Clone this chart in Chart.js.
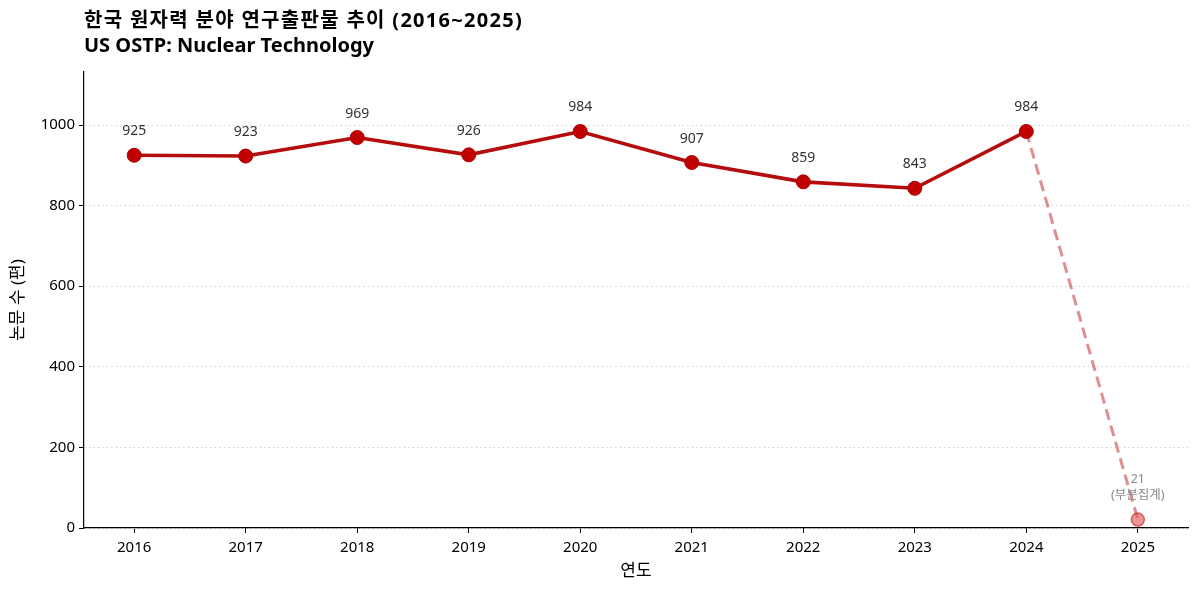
<!DOCTYPE html>
<html><head><meta charset="utf-8">
<script src="https://cdn.jsdelivr.net/npm/chart.js@4.4.1/dist/chart.umd.min.js"></script>
<style>html,body{margin:0;padding:0;background:#fff}#wrap{width:1200px;height:593px}</style>
</head><body><div id="wrap"><canvas id="c" width="1200" height="593"></canvas></div>
<script>
const years = [2016,2017,2018,2019,2020,2021,2022,2023,2024,2025];
const mainYears = [2016,2017,2018,2019,2020,2021,2022,2023,2024];
const mainValues = [925,923,969,926,984,907,859,843,984];
const partialYears = [2024,2025];
const partialValues = [984,21];
const yTicks = [0,200,400,600,800,1000];
const titleLines = ['한국 원자력 분야 연구출판물 추이 (2016~2025)','US OSTP: Nuclear Technology'];
const xTitle = '연도';
const yTitle = '논문 수 (편)';
const partialNote = '(부분집계)';

const FONT = "'Noto Sans','Noto Sans CJK KR',sans-serif";
const KFONT = "'Noto Sans CJK KR',sans-serif";
const mainData = mainYears.map((x,i)=>({x, y: mainValues[i]}));
const partData = partialYears.map((x,i)=>({x, y: partialValues[i]}));

const labelPlugin = {
  id:'labels',
  afterDatasetsDraw(chart){
    const ctx = chart.ctx;
    ctx.save();
    ctx.textAlign='center';
    ctx.textBaseline='alphabetic';
    ctx.font = "14px " + FONT;
    ctx.fillStyle = '#333';
    const m0 = chart.getDatasetMeta(0);
    m0.data.forEach((p,i)=>{
      ctx.fillText(String(mainValues[i]), p.x, p.y - 20);
    });
    const m1 = chart.getDatasetMeta(1);
    const p = m1.data[1];
    ctx.fillStyle = '#888';
    ctx.font = "12.5px " + FONT;
    ctx.fillText(String(partialValues[1]), p.x, p.y - 37);
    ctx.fillText(partialNote, p.x, p.y - 21);
    ctx.restore();
  },
  afterDraw(chart){
    const ctx = chart.ctx;
    const ca = chart.chartArea;
    ctx.save();
    ctx.fillStyle='#000';
    ctx.textAlign='left';
    ctx.textBaseline='middle';
    ctx.font = "bold 20px " + FONT;
    ctx.letterSpacing = '1.3px';
    ctx.fillText(titleLines[0], 84, 21);
    ctx.letterSpacing = '0px';
    ctx.fillText(titleLines[1], 84, 46);
    ctx.font = "17px " + KFONT;
    ctx.textAlign='center';
    ctx.fillText(xTitle, (ca.left + ca.right)/2, 570);
    ctx.translate(18, (ca.top + ca.bottom)/2);
    ctx.rotate(-Math.PI/2);
    ctx.font = "17px " + FONT;
    ctx.fillText(yTitle, 0, 0);
    ctx.restore();
  }
};

new Chart(document.getElementById('c'), {
  type:'line',
  data:{
    datasets:[
      {data: mainData, borderColor:'#b50d0d', borderWidth:3.6, pointRadius:7, pointHoverRadius:7,
       pointBackgroundColor:'#c00000', pointBorderColor:'#b00000', pointBorderWidth:1, tension:0, order:1},
      {data: partData, borderColor:'rgba(200,70,70,0.6)', borderWidth:3, borderDash:[11,6], tension:0,
       pointRadius:[0,6.5], pointHoverRadius:[0,6.5], pointBackgroundColor:'rgba(225,80,80,0.6)',
       pointBorderColor:'rgba(190,50,50,0.7)', pointBorderWidth:1.5, order:2}
    ]
  },
  options:{
    responsive:false, animation:false, devicePixelRatio:1,
    layout:{padding:{top:72,right:12,left:0,bottom:0}},
    plugins:{legend:{display:false}, tooltip:{enabled:false}},
    scales:{
      x:{type:'linear', min:2015.55, max:2025.45,
        afterBuildTicks(s){ s.ticks = years.map(v=>({value:v})); },
        afterFit(s){ s.height = 65; },
        border:{display:true,color:'#000',width:1.2},
        grid:{display:true, drawOnChartArea:false, tickLength:5, tickColor:'#000'},
        ticks:{color:'#000', font:{size:15, family:FONT}, padding:6, callback:v=>String(v), maxRotation:0, autoSkip:false}
      },
      y:{type:'linear', min:0, max:1131.6,
        afterBuildTicks(s){ s.ticks = yTicks.map(v=>({value:v})); },
        afterFit(s){ s.width = 84; },
        border:{display:true,color:'#000',width:1.2, dash:[1.5,3]},
        grid:{display:true, color:'#cfcfcf', lineWidth:1, tickLength:5, tickColor:'#000', tickBorderDash:[]},
        ticks:{color:'#000', font:{size:15, family:FONT}, padding:4, callback:v=>String(v)}
      }
    }
  },
  plugins:[labelPlugin]
});
</script></body></html>
